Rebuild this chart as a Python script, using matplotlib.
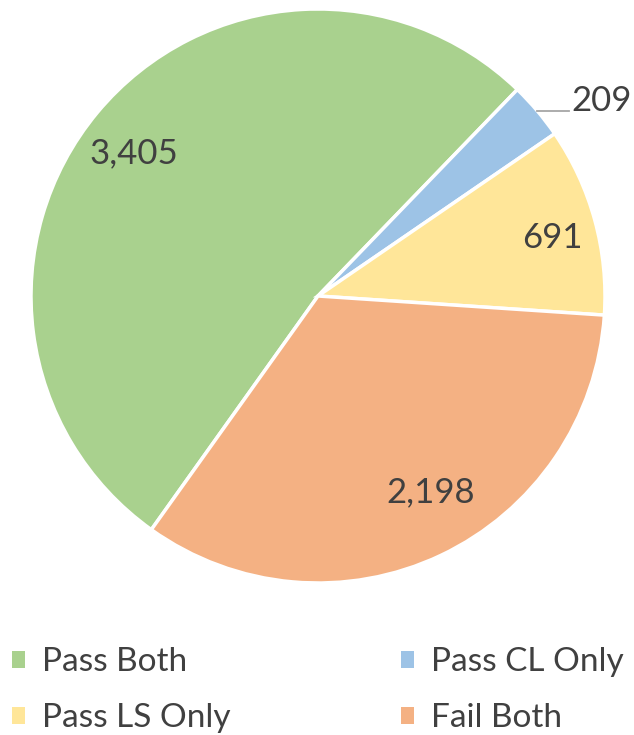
import numpy as np
import matplotlib
matplotlib.use("Agg")
import matplotlib.pyplot as plt
from matplotlib.patches import Patch

categories = ["Pass Both", "Pass CL Only", "Pass LS Only", "Fail Both"]
values = [3405, 209, 691, 2198]
colors = ["#A9D18E", "#9DC3E6", "#FFE699", "#F4B183"]
# legend is filled column by column: col1 = Pass Both / Pass LS Only, col2 = Pass CL Only / Fail Both
legend_order = ["Pass Both", "Pass LS Only", "Pass CL Only", "Fail Both"]

plt.rcParams['font.family'] = ['Lato', 'DejaVu Sans']
TXT = "#404040"
FS = 25
LFS = 24

W, H = 634, 735
fig = plt.figure(figsize=(W / 100, H / 100), dpi=100)
cx, cy, R = 318, 296, 287
ax = fig.add_axes([(cx - R) / W, 1 - (cy + R) / H, 2 * R / W, 2 * R / H])

wedges, _ = ax.pie(values, colors=colors, startangle=-125.5, counterclock=False,
                   radius=1.0, wedgeprops=dict(edgecolor="white", linewidth=2.5))
ax.set_xlim(-1, 1)
ax.set_ylim(-1, 1)
ax.set_aspect("equal")
ax.axis("off")

# label layout: (radial distance, angular tweak in degrees) for inside labels
layout = {0: (0.81, 2.0), 2: (0.84, -1.5), 3: (0.79, 4.5)}
for i, w in enumerate(wedges):
    mid = np.deg2rad((w.theta1 + w.theta2) / 2)
    txt = f"{values[i]:,}"
    if i in layout:
        r, tw = layout[i]
        a = mid + np.deg2rad(tw)
        ax.text(r * np.cos(a), r * np.sin(a), txt, ha="center", va="center",
                fontsize=FS, color=TXT)
    else:
        x0, y0 = np.cos(mid), np.sin(mid)
        x1 = x0 + 32 / R
        ax.plot([x0, x1], [y0, y0], color="#A6A6A6", lw=1.3, clip_on=False)
        ax.text(x1 + 2 / R, y0 + 10 / R, txt, ha="left", va="center",
                fontsize=FS, color=TXT)

handles = [Patch(facecolor=colors[categories.index(c)], edgecolor="none") for c in legend_order]
leg = fig.legend(handles, legend_order, ncol=2, loc="upper left",
                 bbox_to_anchor=(12 / W, 1 - 647 / H), frameon=False,
                 fontsize=LFS, handlelength=0.4, handleheight=0.4,
                 handletextpad=0.5, columnspacing=5.1, labelspacing=0.78,
                 borderpad=0, borderaxespad=0)
for t in leg.get_texts():
    t.set_color(TXT)

fig.savefig("out.png", dpi=100)
